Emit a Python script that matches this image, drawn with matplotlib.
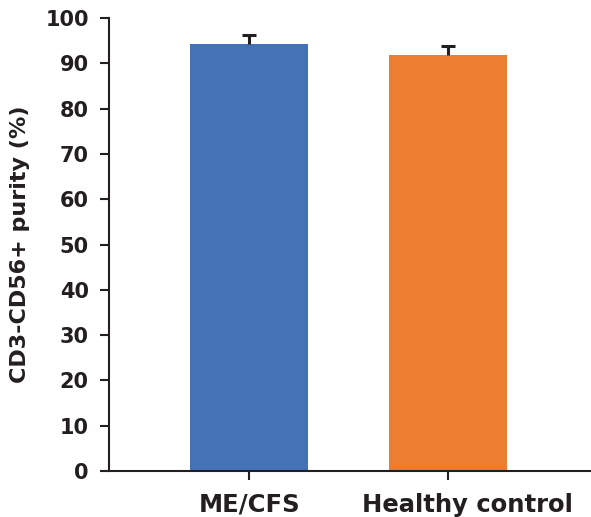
import matplotlib.pyplot as plt
from matplotlib.transforms import ScaledTranslation

# Data
groups = ['ME/CFS', 'Healthy control']
purity = [94.3, 91.8]
sd = [1.9, 2.0]
colors = ['#4472B6', '#ED7D31']

plt.rcParams['font.family'] = ['DejaVu Sans']
plt.rcParams['font.weight'] = 'bold'

fig = plt.figure(figsize=(5.91, 5.17), dpi=100)
ax = fig.add_axes([0.1844, 0.089, 0.8156, 0.876])

x = list(range(len(groups)))
ax.bar(x, purity, width=0.59, color=colors, zorder=2)
# upper half error bars only
tops = [p + s for p, s in zip(purity, sd)]
ax.vlines(x, purity, tops, color='#231F20', lw=2.2, zorder=3)
ax.hlines(tops, [i - 0.035 for i in x], [i + 0.035 for i in x],
          color='#231F20', lw=2.2, zorder=3)

ax.set_xlim(-0.705, 1.72)
ax.set_ylim(0, 100)
ax.set_yticks(range(0, 101, 10))
ax.set_xticks(x)
ax.set_xticklabels(groups, fontsize=17.5, fontweight='bold')
ax.tick_params(axis='y', labelsize=15, width=1.5, length=6.5, pad=8,
               colors='#231F20')
ax.tick_params(axis='x', width=1.5, length=6.5, pad=9, colors='#231F20')
for lab in ax.get_yticklabels():
    lab.set_fontweight('bold')
# second label sits a little right of its tick in the reference
lab = ax.get_xticklabels()[1]
lab.set_transform(lab.get_transform() + ScaledTranslation(0.2, 0, fig.dpi_scale_trans))
ax.set_ylabel('CD3-CD56+ purity (%)', fontsize=16, fontweight='bold',
              labelpad=11, color='#231F20')

for s in ['top', 'right']:
    ax.spines[s].set_visible(False)
for s in ['left', 'bottom']:
    ax.spines[s].set_linewidth(1.5)
    ax.spines[s].set_color('#231F20')

fig.savefig('out.png', dpi=100)
